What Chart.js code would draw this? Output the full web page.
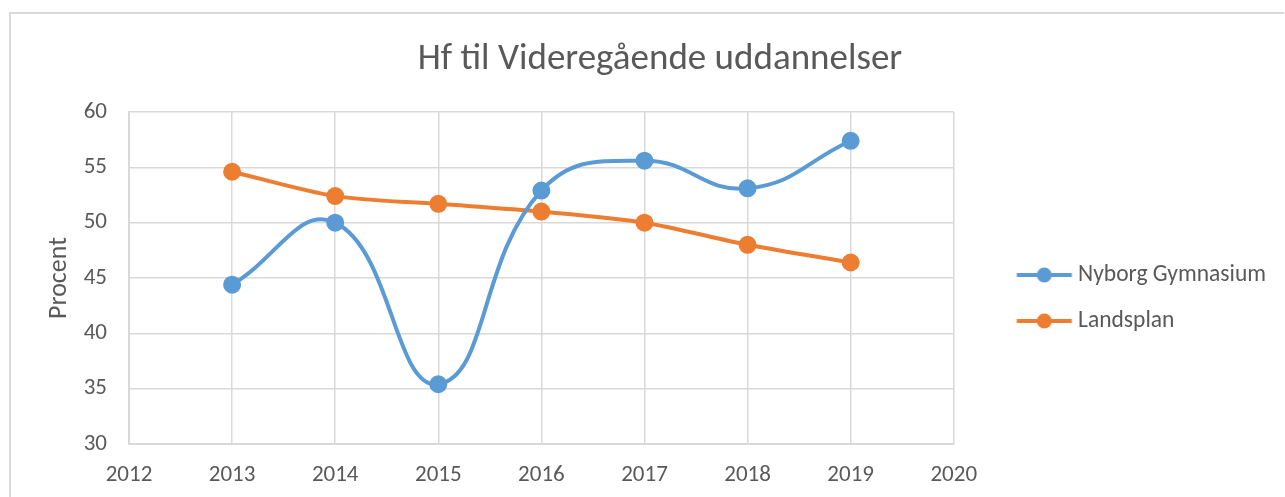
<!DOCTYPE html>
<html>
<head>
<meta charset="utf-8">
<script src="https://cdn.jsdelivr.net/npm/chart.js@4"></script>
<style>
  html, body { margin: 0; padding: 0; background: #fff; }
  #wrap { position: relative; width: 1285px; height: 497px; }
  #frame { position: absolute; left: 9px; top: 12px; right: 1px; bottom: -5px;
           border-top: 2px solid #d9d9d9; border-left: 2px solid #d9d9d9; pointer-events: none; }
  canvas { position: absolute; left: 0; top: 0; }
</style>
</head>
<body>
<div id="wrap">
  <canvas id="myChart" width="1285" height="497"></canvas>
  <div id="frame"></div>
</div>
<script>
// data
const years = [2013, 2014, 2015, 2016, 2017, 2018, 2019];
const nyborg = [44.4, 50.0, 35.4, 52.9, 55.6, 53.1, 57.4];
const landsplan = [54.6, 52.4, 51.7, 51.0, 50.0, 48.0, 46.4];
const yTicks = [30, 35, 40, 45, 50, 55, 60];
const xTicks = [2012, 2013, 2014, 2015, 2016, 2017, 2018, 2019, 2020];

const blue = '#5b9bd5';
const orange = '#ed7d31';
const grey = '#595959';
const gridGrey = '#d9d9d9';
const font = "Carlito, Calibri, Lato, sans-serif";

function pts(vals) {
    return years.map((y, i) => ({ x: y, y: vals[i] }));
}

// legend marker: short line with a dot (canvas is wider than the box, drawn centred)
function legendIcon(color) {
    const c = document.createElement('canvas');
    c.width = 104; c.height = 18;
    const g = c.getContext('2d');
    g.strokeStyle = color;
    g.lineWidth = 4;
    g.beginPath();
    g.moveTo(47.5, 9); g.lineTo(102.5, 9);
    g.stroke();
    g.fillStyle = color;
    g.beginPath();
    g.arc(75, 9, 7.5, 0, Math.PI * 2);
    g.fill();
    return c;
}

const ctx = document.getElementById('myChart');
var chart = new Chart(ctx, {
    type: 'line',
    data: {
        datasets: [{
            label: 'Nyborg Gymnasium',
            data: pts(nyborg),
            borderColor: blue,
            backgroundColor: blue,
            borderWidth: 4,
            pointRadius: 7,
            pointHoverRadius: 7,
            tension: 0.45
        }, {
            label: 'Landsplan',
            data: pts(landsplan),
            borderColor: orange,
            backgroundColor: orange,
            borderWidth: 4,
            pointRadius: 7,
            pointHoverRadius: 7,
            tension: 0.3
        }]
    },
    options: {
        responsive: false,
        animation: false,
        layout: { padding: { left: 44, right: 9, top: 38, bottom: 8 } },
        plugins: {
            title: {
                display: true,
                text: 'Hf til Videregående uddannelser',
                color: grey,
                font: { family: font, size: 37, weight: 'normal' },
                padding: { top: 0, bottom: 29.6 }
            },
            legend: {
                position: 'right',
                maxWidth: 340,
                // empty title only pushes the items down
                title: { display: true, text: ' ', font: { size: 10 }, padding: 28.5 },
                labels: {
                    color: grey,
                    font: { family: font, size: 23.5 },
                    usePointStyle: true,
                    pointStyleWidth: 90,
                    padding: 22.5,
                    generateLabels: (ch) => ch.data.datasets.map((ds, i) => ({
                        text: ds.label,
                        fontColor: grey,
                        pointStyle: legendIcon(ds.borderColor),
                        datasetIndex: i,
                        lineWidth: 0,
                        strokeStyle: 'transparent',
                        fillStyle: 'transparent'
                    }))
                }
            },
            tooltip: { enabled: false }
        },
        scales: {
            x: {
                type: 'linear',
                min: 2012,
                max: 2020,
                afterBuildTicks: (axis) => { axis.ticks = xTicks.map(v => ({ value: v })); },
                afterFit: (axis) => { axis.height = 45; },
                ticks: {
                    color: grey,
                    font: { family: font, size: 23 },
                    padding: 17,
                    callback: (v) => String(v)
                },
                grid: { color: gridGrey, lineWidth: 1.5, drawTicks: false },
                border: { color: gridGrey, width: 2 }
            },
            y: {
                min: 30,
                max: 60,
                afterBuildTicks: (axis) => { axis.ticks = yTicks.map(v => ({ value: v })); },
                afterFit: (axis) => { axis.width = 85; },
                ticks: {
                    color: grey,
                    font: { family: font, size: 23 },
                    padding: 22
                },
                title: {
                    display: true,
                    text: 'Procent',
                    color: grey,
                    font: { family: font, size: 26 },
                    padding: { top: 0, bottom: 8 }
                },
                grid: { color: gridGrey, lineWidth: 1.5, drawTicks: false },
                border: { color: gridGrey, width: 2 }
            }
        }
    }
});
</script>
</body>
</html>
